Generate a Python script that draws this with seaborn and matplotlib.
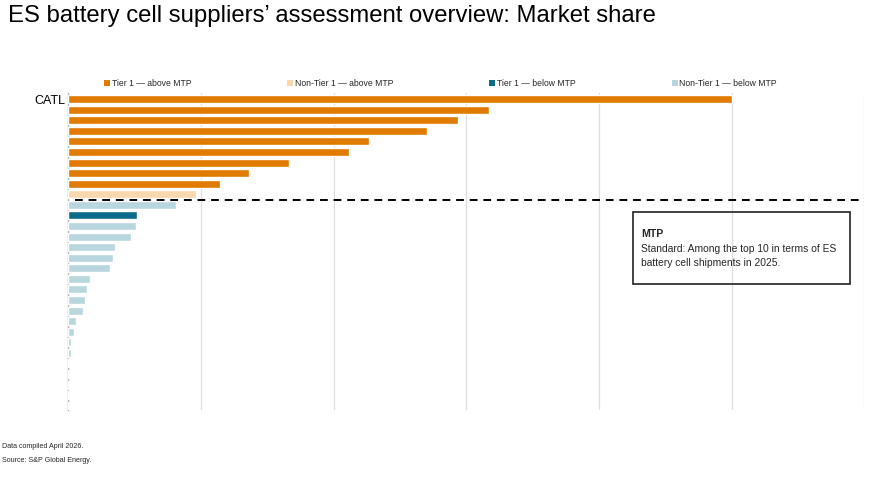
import numpy as np
import pandas as pd
import matplotlib
matplotlib.use("Agg")
import matplotlib.pyplot as plt
from matplotlib.lines import Line2D
from matplotlib.patches import Rectangle
import seaborn as sns

# Data (supplier names other than CATL are blurred out)
suppliers = ["CATL"] + [""] * 29
market_share = [50.0, 31.7, 29.4, 27.0, 22.7, 21.15, 16.6, 13.65, 11.4,
                9.6,
                8.1, 5.2, 5.1, 4.7, 3.5, 3.35, 3.15, 1.65, 1.4, 1.25, 1.1,
                0.6, 0.4, 0.22, 0.22, 0.06, 0.05, 0.05, 0.03, 0.02]
groups = (["Tier 1 — above MTP"] * 9
          + ["Non-Tier 1 — above MTP"]
          + ["Non-Tier 1 — below MTP"]
          + ["Tier 1 — below MTP"]
          + ["Non-Tier 1 — below MTP"] * 18)
legend_order = ["Tier 1 — above MTP", "Non-Tier 1 — above MTP",
                "Tier 1 — below MTP", "Non-Tier 1 — below MTP"]
palette = {"Tier 1 — above MTP": "#E07B00",
           "Non-Tier 1 — above MTP": "#F9D8AE",
           "Tier 1 — below MTP": "#0A6C8A",
           "Non-Tier 1 — below MTP": "#B8D6DE"}

df = pd.DataFrame({"rank": np.arange(len(suppliers)),
                   "share": market_share,
                   "group": groups})

sns.set_theme(style="white")
plt.rcParams["font.family"] = ["Liberation Sans", "DejaVu Sans"]

fig = plt.figure(figsize=(8.72, 4.91), dpi=100)
ax = fig.add_axes([0.0783, 0.165, 0.913, 0.646])

sns.barplot(data=df, x="share", y="rank", hue="group", palette=palette,
            orient="y", dodge=False, width=0.75, legend=False,
            saturation=1, ax=ax, zorder=3)

ax.set_xlim(0, 60)
ax.set_ylim(29.4, -0.6)
ax.set_xticks(np.arange(0, 61, 10))
ax.xaxis.grid(True, color="#dddddd", linewidth=0.9)
ax.set_xticklabels([])
ax.tick_params(axis="both", length=0)
ax.set_yticks(df["rank"])
ax.set_yticklabels(suppliers, fontsize=9, color="black")
ax.tick_params(axis="y", pad=2)
ax.set_xlabel("")
ax.set_ylabel("")
for s in ["top", "right", "bottom"]:
    ax.spines[s].set_visible(False)
ax.spines["left"].set_color("#b0b0b0")
ax.spines["left"].set_linewidth(1)

# MTP threshold line between row 9 and 10
ax.axhline(9.5, xmin=0.009, xmax=1.0, color="black", linestyle=(0, (4, 3)),
           linewidth=1.4, zorder=4, clip_on=False)

# legend across the top
handles = [Line2D([0], [0], marker="s", linestyle="", markersize=4,
                  markerfacecolor=palette[g], markeredgewidth=0)
           for g in legend_order]
fig.legend(handles, legend_order, loc="center left", ncol=4, mode="expand",
           bbox_to_anchor=(0.120, 0.829, 0.771, 0.0), frameon=False,
           fontsize=6.2, handlelength=0.5, handletextpad=0.3,
           borderaxespad=0, borderpad=0)

# MTP definition box
fig.patches.append(Rectangle((0.726, 0.4216), 0.249, 0.1466,
                             transform=fig.transFigure, facecolor="none",
                             edgecolor="#222222", linewidth=1.2, zorder=5))
fig.text(641 / 872, 1 - 234 / 491, "MTP", fontsize=7.6, fontweight="bold",
         va="center", ha="left")
fig.text(641 / 872, 1 - 248.5 / 491, "Standard: Among the top 10 in terms of ES",
         fontsize=7.4, va="center", ha="left")
fig.text(641 / 872, 1 - 262.5 / 491, "battery cell shipments in 2025.",
         fontsize=7.4, va="center", ha="left")

fig.text(8 / 872, 1 - 16 / 491,
         "ES battery cell suppliers\u2019 assessment overview: Market share",
         fontsize=17.2, va="center", ha="left", color="black")
fig.text(2 / 872, 1 - 447 / 491, "Data compiled April 2026.", fontsize=5.1,
         va="center", ha="left")
fig.text(2 / 872, 1 - 460 / 491, "Source: S&P Global Energy.", fontsize=5.1,
         va="center", ha="left")

fig.savefig("out.png", dpi=100, facecolor="white")
